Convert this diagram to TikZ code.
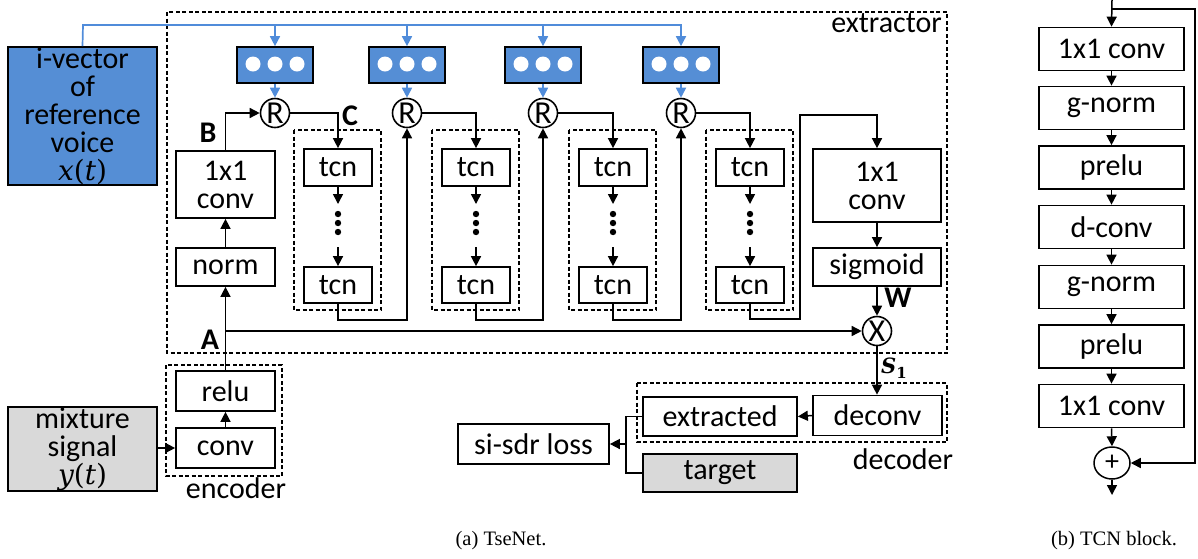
\documentclass[tikz,border=0pt]{standalone}
\usepackage{fontspec}
\setmainfont{Carlito}
\newfontfamily\capfont{Liberation Serif}
\newfontfamily\mathlike{DejaVu Serif}
\usetikzlibrary{arrows.meta,shapes.geometric}
\definecolor{vblue}{RGB}{85,142,213}
\definecolor{lblue}{RGB}{80,140,218}
\definecolor{vgray}{RGB}{217,217,217}
\begin{document}
\begin{tikzpicture}[x=1pt,y=-1pt,
  font=\fontsize{30}{28}\selectfont,
  box/.style={draw, line width=1.7pt, inner sep=0pt, align=center, rectangle},
  grp/.style={draw, dash pattern=on 4pt off 2.5pt, line width=1.3pt},
  op/.style={draw, circle, line width=1.6pt, inner sep=0pt, minimum size=29pt, font=\fontsize{32}{32}\selectfont},
  conn/.style={line width=1.5pt, -{Triangle[length=10pt,width=10pt]}},
  plain/.style={line width=1.5pt},
  bconn/.style={line width=1.7pt, draw=lblue, -{Triangle[length=10pt,width=10pt,fill=lblue]}},
  lab/.style={font=\fontsize{30}{28}\selectfont\bfseries, inner sep=0pt},
  captext/.style={font=\capfont\fontsize{20.5}{24}\selectfont, inner sep=0pt},
]
\useasboundingbox (0,0) rectangle (1198,558);

% containers
\draw[grp] (167,12) rectangle (947,353);
\node[anchor=north east, inner sep=0pt] (extlab) at (942,13) {extractor};
\draw[grp] (166,365) rectangle (282,476);
\node[inner sep=0pt] (enclab) at (236,488) {encoder};
\draw[grp] (637,383) rectangle (947,442);
\node[inner sep=0pt] (declab) at (903,459) {decoder};

% inputs
\node[box, fill=vblue, minimum width=149pt, minimum height=138pt] (ivec) at (82.5,116)
  {i-vector\\of\\reference\\voice\\{\mathlike\fontsize{28}{28}\selectfont\itshape x}{\mathlike\fontsize{28}{28}\selectfont(}{\mathlike\fontsize{28}{28}\selectfont\itshape t}{\mathlike\fontsize{28}{28}\selectfont)}};
\node[box, fill=vgray, minimum width=149pt, minimum height=84pt] (mix) at (82.5,449)
  {mixture\\signal\\{\mathlike\fontsize{28}{28}\selectfont\itshape y}{\mathlike\fontsize{28}{28}\selectfont(}{\mathlike\fontsize{28}{28}\selectfont\itshape t}{\mathlike\fontsize{28}{28}\selectfont)}};

% encoder
\node[box, minimum width=99pt, minimum height=40pt] (conv) at (225.5,448) {conv};
\node[box, minimum width=99pt, minimum height=40pt] (relu) at (225.5,391) {relu};

% left chain
\node[box, minimum width=99pt, minimum height=38pt] (norm) at (225.5,267) {norm};
\node[box, minimum width=99pt, minimum height=67pt] (c1) at (225.5,184.5) {1x1\\conv};

% R nodes and blue boxes
\foreach \i/\x in {1/275,2/407,3/543,4/681}{
  \node[op] (R\i) at (\x,113) {R};
  \node[box, fill=vblue, minimum width=76pt, minimum height=36pt] (b\i) at (\x,65) {};
  \foreach \d in {-22,0,22}{\fill[white] (\x+\d,64) circle[radius=7.5pt];}
}

% tcn groups
\foreach \i/\cx in {1/338,2/476,3/613,4/750}{
  \draw[grp] (\cx-44,130) rectangle (\cx+43,310);
  \node[box, minimum width=68pt, minimum height=37pt] (t\i a) at (\cx,167.5) {tcn};
  \node[box, minimum width=68pt, minimum height=36pt] (t\i b) at (\cx,285) {tcn};
  \draw[conn] (t\i a.south) -- (\cx,204);
  \foreach \y in {214,223,232}{\fill (\cx,\y) circle[radius=3.2pt];}
  \coordinate (t\i m) at (\cx,247);
  \draw[conn] (t\i m) -- (t\i b.north);
  \draw[conn] (R\i.east) -| (t\i a.north);
}

% right chain
\node[box, minimum width=128pt, minimum height=73pt] (c2) at (877,185.5) {1x1\\conv};
\node[box, minimum width=128pt, minimum height=38pt] (sig) at (877,267) {sigmoid};
\node[op] (X) at (877,331) {X};

% decoder etc
\node[box, minimum width=129pt, minimum height=40pt] (deconv) at (877.5,415.5) {deconv};
\node[box, minimum width=154pt, minimum height=39pt] (extr) at (720,416.5) {extracted};
\node[box, minimum width=151pt, minimum height=40pt] (loss) at (533.5,444) {si-sdr loss};
\node[box, fill=vgray, minimum width=154pt, minimum height=38pt] (target) at (720,473) {target};

% blue connectors
\coordinate (bt) at (83,25);
\draw[bconn] (ivec.north) -- (bt) -| (b4.north);
\foreach \i in {1,2,3}{\draw[bconn] (b\i.north |- bt) -- (b\i.north);}
\foreach \i in {1,2,3,4}{\draw[bconn] (b\i.south) -- (R\i.north);}

% black connectors
\draw[conn] (mix.east |- conv.west) -- (conv.west);
\draw[conn] (conv.north) -- (relu.south);
\draw[conn] (relu.north) -- (norm.south);
\draw[conn] (norm.north) -- (c1.south);
\draw[conn] (c1.north) |- (R1.west);
\coordinate (Aj) at (225.5,331);
\draw[conn] (Aj) -- (X.west);
\draw[conn] (t1b.south) -- ++(0,16) -| (R2.south);
\draw[conn] (t2b.south) -- ++(0,16) -| (R3.south);
\draw[conn] (t3b.south) -- ++(0,16) -| (R4.south);
\coordinate (g4a) at (800,319);
\coordinate (g4b) at (800,115);
\draw[conn] (t4b.south) |- (g4a) -- (g4b) -| (c2.north);
\draw[conn] (c2.south) -- (sig.north);
\draw[conn] (sig.south) -- (X.north);
\draw[conn] (X.south) -- (X.south |- deconv.north);
\draw[conn] (deconv.west) -- (extr.east);
\coordinate (jn) at (626,444);
\draw[plain] (extr.west) -| (jn) |- (target.west);
\draw[conn] (jn) -- (loss.east);

% labels
\node[lab] (la) at (210,340) {A};
\node[lab] (lb) at (208,133) {B};
\node[lab] (lc) at (350,116) {C};
\node[lab] (lw) at (898,298) {W};
\node[inner sep=0pt, font=\mathlike\fontsize{21}{21}\selectfont\bfseries] (ls) at (894,368)
  {\itshape S\raisebox{-5pt}{\upshape\fontsize{15}{15}\selectfont 1}};

% TCN block
\foreach \n/\y/\t in {k1/49/1x1 conv,k2/108/g-norm,k3/167.5/prelu,k4/227/d-conv,k5/287/g-norm,k6/346.5/prelu,k7/406/1x1 conv}{
  \node[box, minimum width=145pt, minimum height=43pt] (\n) at (1111.5,\y) {\t};
}
\node[draw, ellipse, line width=1.5pt, inner sep=0pt, minimum width=36pt, minimum height=32pt, font=\fontsize{28}{28}\selectfont] (plus) at (1112,463) {+};
\coordinate (tin) at (1112,0);
\coordinate (tsk) at (1112,9);
\coordinate (tsr) at (1195,9);
\coordinate (tout) at (1112,495);
\draw[conn] (tin) -- (k1.north);
\draw[conn] (tsk) -- (tsr) |- (plus.east);
\draw[conn] (k1.south) -- (k2.north);
\draw[conn] (k2.south) -- (k3.north);
\draw[conn] (k3.south) -- (k4.north);
\draw[conn] (k4.south) -- (k5.north);
\draw[conn] (k5.south) -- (k6.north);
\draw[conn] (k6.south) -- (k7.north);
\draw[conn] (k7.south) -- (plus.north);
\draw[conn] (plus.south) -- (tout);

% captions
\node[captext] (capa) at (501,541) {(a) TseNet.};
\node[captext] (capb) at (1114,541) {(b) TCN block.};
\end{tikzpicture}
\end{document}
